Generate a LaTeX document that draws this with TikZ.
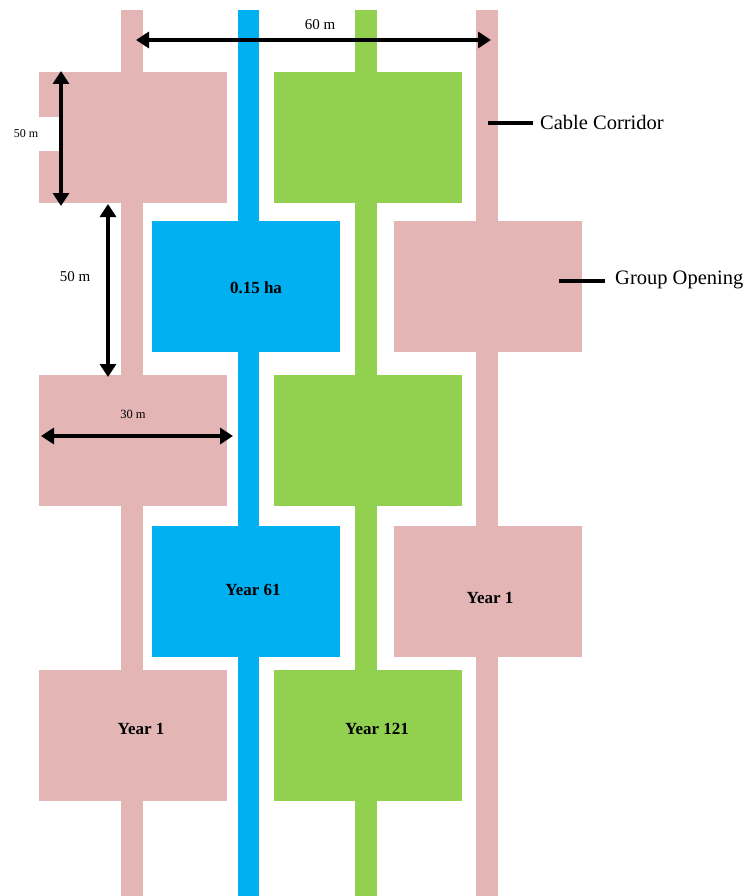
\documentclass[tikz,border=0pt]{standalone}
\usepackage{fontspec}
\setmainfont{Liberation Serif}
\usetikzlibrary{arrows.meta}
\definecolor{pinkc}{RGB}{227,181,181}
\definecolor{bluec}{RGB}{0,176,240}
\definecolor{greenc}{RGB}{146,208,80}
\tikzset{
  plot/.style={draw=none,inner sep=0pt,minimum width=188pt,minimum height=131pt},
  strip/.style={draw=none,inner sep=0pt,minimum width=22pt,minimum height=886pt},
  lbl/.style={font=\fontsize{17}{19}\selectfont\bfseries,inner sep=0pt},
  dim/.style={line width=4pt,{Triangle[length=13pt,width=16pt]}-{Triangle[length=13pt,width=16pt]}},
  dimtxt/.style={inner sep=0pt},
  lead/.style={line width=3.2pt},
  side/.style={font=\fontsize{20.5}{22}\selectfont,inner sep=0pt,anchor=west}
}
\begin{document}
\begin{tikzpicture}[x=1pt,y=-1pt]
\useasboundingbox[fill=white] (0,0) rectangle (749,896);
% strips (cable corridors)
\node[strip,fill=pinkc] (s1) at (132,453) {};
\node[strip,fill=bluec,minimum width=21pt] (s2) at (248.5,453) {};
\node[strip,fill=greenc] (s3) at (366,453) {};
\node[strip,fill=pinkc] (s4) at (486.5,453) {};
% plots
\node[plot,fill=pinkc] (p11) at (133,137.5) {};
\node[plot,fill=greenc] (g11) at (367.5,137.5) {};
\node[plot,fill=bluec] (b21) at (246,286.5) {};
\node[plot,fill=pinkc] (p22) at (487.5,286.5) {};
\node[plot,fill=pinkc] (p31) at (133,440) {};
\node[plot,fill=greenc] (g31) at (367.5,440) {};
\node[plot,fill=bluec] (b41) at (246,591) {};
\node[plot,fill=pinkc] (p42) at (487.5,591) {};
\node[plot,fill=pinkc] (p51) at (133,735.5) {};
\node[plot,fill=greenc] (g51) at (367.5,735.5) {};
% labels
\node[lbl] (l1) at (256,288) {0.15 ha};
\node[lbl] (l2) at (253,590) {Year 61};
\node[lbl] (l3) at (490,598) {Year 1};
\node[lbl] (l4) at (141,729) {Year 1};
\node[lbl] (l5) at (377,729) {Year 121};
% white box with 50 m
\node[fill=white,inner sep=0pt,minimum width=62pt,minimum height=34pt] (wb) at (31,134) {};
\node[dimtxt,font=\fontsize{12}{14}\selectfont] (t50a) at (26,134) {50 m};
% dimension arrows
\coordinate (a1) at (136,40);
\coordinate (a2) at (491,40);
\draw[dim] (a1) -- (a2);
\node[dimtxt,font=\fontsize{15}{17}\selectfont] (t60) at (320,25) {60 m};
\coordinate (v1) at (61,71);
\coordinate (v2) at (61,206);
\draw[dim] (v1) -- (v2);
\coordinate (m1) at (108,204);
\coordinate (m2) at (108,377);
\draw[dim] (m1) -- (m2);
\node[dimtxt,font=\fontsize{15}{17}\selectfont] (t50b) at (75,277) {50 m};
\coordinate (h1) at (41,436);
\coordinate (h2) at (233,436);
\draw[dim] (h1) -- (h2);
\node[dimtxt,font=\fontsize{12.5}{14}\selectfont] (t30) at (133,414) {30 m};
% side labels
\node[side] (cc) at (540,122) {Cable Corridor};
\coordinate (c0) at (488,123);
\coordinate (c1) at ([xshift=-7pt]cc.west);
\draw[lead] (c0) -- (c0 -| c1);
\node[side] (go) at (615,280) {Group Opening};
\coordinate (g0) at (559,281);
\coordinate (g1) at ([xshift=-10pt]go.west);
\draw[lead] (g0) -- (g0 -| g1);
\end{tikzpicture}
\end{document}
